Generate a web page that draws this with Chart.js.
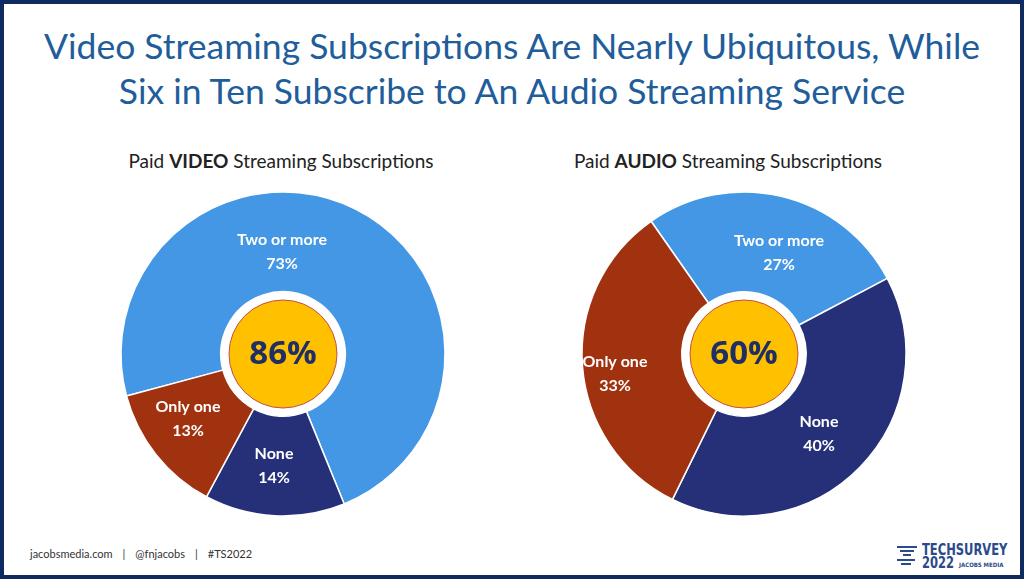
<!DOCTYPE html>
<html>
<head>
<meta charset="utf-8">
<script src="https://cdn.jsdelivr.net/npm/chart.js@4/dist/chart.umd.min.js"></script>
<style>
  body { margin: 0; background: #fff; }
  #frame { position: relative; width: 1024px; height: 579px; box-sizing: border-box;
           border: 4px solid #0f2a60; overflow: hidden; font-family: Lato, "Open Sans", sans-serif; }
  .title { position: absolute; left: 0; width: 1016px; text-align: center; color: #215d9a;
           font-size: 35.5px; line-height: 44px; white-space: nowrap; }
  .sub { position: absolute; width: 400px; text-align: center; color: #222; font-size: 19px; }
  .sub b { font-weight: 700; }
  canvas { position: absolute; }
  #footer { position: absolute; left: 26px; top: 543px; font-size: 11px; color: #333; }
  #footer span { margin: 0 10px; }
  #logo { position: absolute; left: 893px; top: 536px; color: #2a4a8a; }
  .bar { position: absolute; height: 2px; background: #2a4a8a; }
  .lt { position: absolute; left: 25px; font-weight: bold; font-family: "DejaVu Sans Condensed", "Liberation Sans", sans-serif;
        white-space: nowrap; transform-origin: 0 0; }
</style>
</head>
<body>
<div id="frame">
  <div class="title" style="top:20px">Video Streaming Subscriptions Are Nearly Ubiquitous, While</div>
  <div class="title" style="top:65px">Six in Ten Subscribe to An Audio Streaming Service</div>

  <div class="sub" style="left:77px; top:145px">Paid <b>VIDEO</b> Streaming Subscriptions</div>
  <div class="sub" style="left:524px; top:145px">Paid <b>AUDIO</b> Streaming Subscriptions</div>

  <canvas id="videoChart" width="400" height="340" style="left:79px; top:180px"></canvas>
  <canvas id="audioChart" width="400" height="340" style="left:540px; top:180px"></canvas>

  <div id="footer">jacobsmedia.com<span>|</span>@fnjacobs<span>|</span>#TS2022</div>

  <div id="logo">
    <div class="bar" style="left:0; top:6px; width:20px"></div>
    <div class="bar" style="left:3px; top:10px; width:14px"></div>
    <div class="bar" style="left:6px; top:14px; width:8px"></div>
    <div class="bar" style="left:0; top:19px; width:18px"></div>
    <div class="bar" style="left:4px; top:23px; width:10px"></div>
    <div class="lt" style="top:0; font-size:16px; transform:scaleX(0.8)">TECHSURVEY</div>
    <div class="lt" style="top:13px; font-size:16px; transform:scaleX(0.8)">2022</div>
    <div class="lt" style="left:62px; top:21px; font-size:6px">JACOBS MEDIA</div>
  </div>
</div>

<script>
// data
var categories = ["Two or more", "None", "Only one"]
var videoValues = [73, 14, 13]
var audioValues = [27, 40, 33]
var videoTotal = "86%"
var audioTotal = "60%"
var sliceColors = ["#4497e4", "#263079", "#a0320f"]

// where the slice labels sit, px from the chart centre
var videoLabelPos = [[-1, -102], [-9, 112], [-95, 65]]
var audioLabelPos = [[35, -101], [75, 80], [-129, 20]]

var centrePlugin = {
  id: "centre",
  afterDatasetsDraw: (chart, args, opts) => {
    var ctx = chart.ctx
    var arc = chart.getDatasetMeta(0).data[0]
    var cx = arc.x, cy = arc.y

    // yellow disc
    ctx.save()
    ctx.beginPath()
    ctx.arc(cx, cy, 54, 0, Math.PI * 2)
    ctx.fillStyle = "#ffc000"
    ctx.fill()
    ctx.lineWidth = 1
    ctx.strokeStyle = "#c0504d"
    ctx.stroke()

    ctx.fillStyle = "#1f2f66"
    ctx.font = "bold 33px 'Open Sans', sans-serif"
    ctx.textAlign = "center"
    ctx.textBaseline = "middle"
    ctx.fillText(opts.total, cx, cy + 1)

    // slice labels
    var values = chart.data.datasets[0].data
    ctx.fillStyle = "#fff"
    ctx.font = "bold 16px Lato, sans-serif"
    chart.data.labels.forEach((lab, i) => {
      var p = opts.pos[i]
      ctx.fillText(lab, cx + p[0], cy + p[1] - 12)
      ctx.fillText(values[i] + "%", cx + p[0], cy + p[1] + 12)
    })
    ctx.restore()
  }
}

function makeDonut(id, values, rotation, total, pos) {
  return new Chart(document.getElementById(id), {
    type: "doughnut",
    data: {
      labels: categories,
      datasets: [{
        data: values,
        backgroundColor: sliceColors,
        borderColor: "#fff",
        borderWidth: 1.5
      }]
    },
    options: {
      responsive: false,
      animation: false,
      rotation: rotation,
      radius: 162,
      cutout: 65,
      layout: { padding: 0 },
      plugins: {
        legend: { display: false },
        tooltip: { enabled: false },
        centre: { total: total, pos: pos }
      }
    },
    plugins: [centrePlugin]
  })
}

makeDonut("videoChart", videoValues, -105, videoTotal, videoLabelPos)
makeDonut("audioChart", audioValues, -35, audioTotal, audioLabelPos)
</script>
</body>
</html>
